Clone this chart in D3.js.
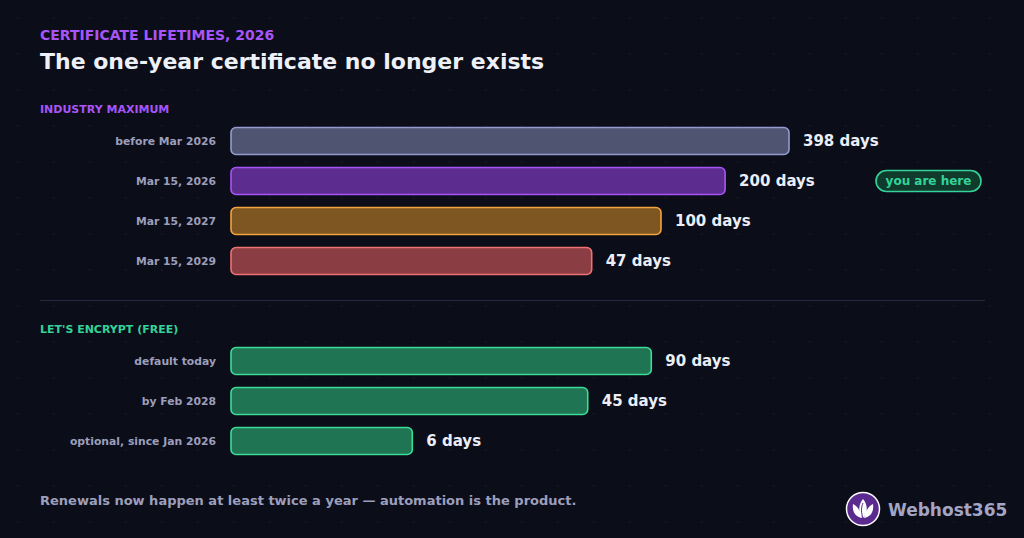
<!DOCTYPE html>
<html><head><meta charset="utf-8">
<script src="https://cdn.jsdelivr.net/npm/d3@7"></script>
<style>html,body{margin:0;padding:0;background:#0b0d19;}svg{display:block;font-family:"DejaVu Sans",sans-serif;}</style>
</head><body><svg id="c" width="1024" height="538"></svg>
<script>
const industryLabels = ["before Mar 2026", "Mar 15, 2026", "Mar 15, 2027", "Mar 15, 2029"];
const industryValues = [398, 200, 100, 47];
const leLabels = ["default today", "by Feb 2028", "optional, since Jan 2026"];
const leValues = [90, 45, 6];
const industryFills = ["#4f5470", "#5c2d8f", "#7d5621", "#8a3e43"];
const industryStrokes = ["#959bd0", "#a855f7", "#f2a53c", "#f07272"];

const svg = d3.select("#c");
const W = 1024, H = 538;

const defs = svg.append("defs");
const pat = defs.append("pattern").attr("id","dots").attr("width",36).attr("height",36).attr("patternUnits","userSpaceOnUse");
pat.append("circle").attr("cx",18).attr("cy",18).attr("r",0.9).attr("fill","#161929");
svg.append("rect").attr("width",W).attr("height",H).attr("fill","#0b0d19");
svg.append("rect").attr("width",W).attr("height",H).attr("fill","url(#dots)");

svg.append("text").attr("x",40).attr("y",39.5).attr("fill","#a855f7").attr("font-size",14).attr("font-weight","bold").text("CERTIFICATE LIFETIMES, 2026");
svg.append("text").attr("x",40).attr("y",68.5).attr("fill","#eef0f8").attr("font-size",22).attr("font-weight","bold").text("The one-year certificate no longer exists");

const x = d3.scaleSymlog().constant(1).domain([0, 398]).range([231, 789]);

function section(title, color, labels, values, fills, strokes, y0) {
  svg.append("text").attr("x",40).attr("y",y0+1).attr("fill",color).attr("font-size",11).attr("font-weight","bold").text(title);
  const y = d3.scaleBand().domain(labels).range([y0+9, y0+9+labels.length*40]).paddingInner(0.325).paddingOuter(0.1625);
  const g = svg.append("g");
  labels.forEach((lab, i) => {
    const v = values[i];
    const yy = y(lab);
    g.append("rect").attr("x", x(0)).attr("y", yy).attr("width", x(v)-x(0)).attr("height", y.bandwidth())
      .attr("rx",5).attr("fill", fills[i]).attr("stroke", strokes[i]).attr("stroke-width",1.6);
    g.append("text").attr("x",216).attr("y", yy + y.bandwidth()/2).attr("dy","0.35em").attr("text-anchor","end")
      .attr("fill","#9c9fbb").attr("font-size",10.8).attr("font-weight","bold").text(lab);
    g.append("text").attr("x", x(v)+14).attr("y", yy + y.bandwidth()/2).attr("dy","0.35em")
      .attr("fill","#eceef6").attr("font-size",15).attr("font-weight","bold").text(v + " days");
  });
  return y;
}

const y1 = section("INDUSTRY MAXIMUM", "#a855f7", industryLabels, industryValues, industryFills, industryStrokes, 112);
svg.append("line").attr("x1",40).attr("x2",985).attr("y1",300.5).attr("y2",300.5).attr("stroke","#262940").attr("stroke-width",1);
section("LET'S ENCRYPT (FREE)", "#34d399", leLabels, leValues, leValues.map(()=>"#1f7453"), leValues.map(()=>"#3ddc97"), 332);

const py = y1("Mar 15, 2026") + y1.bandwidth()/2;
svg.append("rect").attr("x",876).attr("y",py-10.5).attr("width",105).attr("height",21).attr("rx",10.5)
  .attr("fill","#0f3a2c").attr("stroke","#34d399").attr("stroke-width",1.6);
svg.append("text").attr("x",928.5).attr("y",py).attr("dy","0.35em").attr("text-anchor","middle")
  .attr("fill","#34d399").attr("font-size",12).attr("font-weight","bold").text("you are here");

svg.append("text").attr("x",40).attr("y",505).attr("fill","#9c9fbb").attr("font-size",13).attr("font-weight","bold")
  .text("Renewals now happen at least twice a year \u2014 automation is the product.");

const lg = svg.append("g").attr("transform","translate(863,509)");
lg.append("circle").attr("r",16.5).attr("fill","#5b2a8e").attr("stroke","#ffffff").attr("stroke-width",1.5);
lg.append("path").attr("d","M0,9 C-5,4 -5,-4 0,-10 C5,-4 5,4 0,9Z").attr("fill","#fff");
lg.append("path").attr("d","M-1,9 C-8,8 -11,2 -10,-5 C-6,-3 -2,2 -1,9Z").attr("fill","#fff");
lg.append("path").attr("d","M1,9 C8,8 11,2 10,-5 C6,-3 2,2 1,9Z").attr("fill","#fff");
lg.append("path").attr("d","M0,9 C-2,4 -2,-2 0,-6").attr("stroke","#5b2a8e").attr("stroke-width",1).attr("fill","none");
svg.append("text").attr("x",888).attr("y",516).attr("fill","#a3a5c4").attr("font-size",17).attr("font-weight","bold").text("Webhost365");
</script></body></html>
